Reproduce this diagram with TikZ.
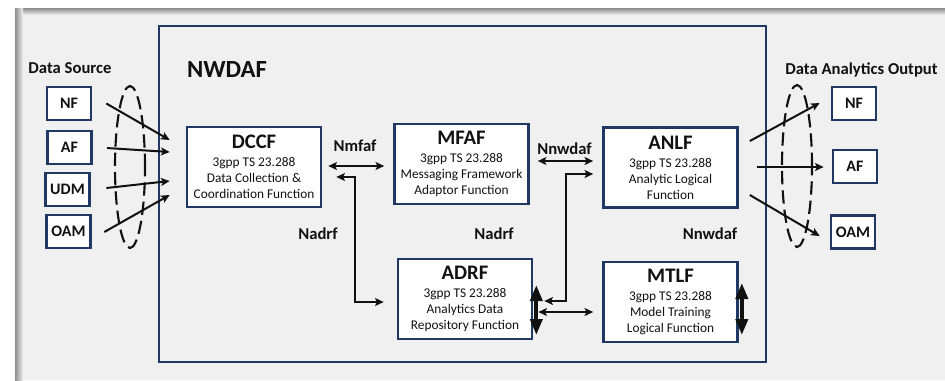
\documentclass[tikz,border=0pt]{standalone}
\usepackage{fontspec}
\setmainfont{Carlito}
\usetikzlibrary{arrows.meta,shapes.geometric,calc}
\definecolor{navy}{HTML}{1F3864}
\definecolor{panel}{HTML}{F0F0F0}
\definecolor{ink}{HTML}{111111}
\newcommand{\ttlfont}{\fontsize{15.5}{17}\selectfont\bfseries}
\newcommand{\bodyfont}{\fontsize{10}{10.5}\selectfont\mdseries}
\begin{document}
\begin{tikzpicture}[x=0.75pt,y=-0.75pt,
  fnbox/.style={draw=navy, line width=2pt, fill=white, minimum width=100.5pt,
    minimum height=60pt, inner sep=0pt, align=center, text=ink},
  epbox/.style={draw=navy, line width=2pt, fill=white, minimum width=33pt,
    minimum height=24.75pt, inner sep=0pt, text=ink,
    font=\fontsize{12}{14}\selectfont\bfseries},
  lbl/.style={text=ink, inner sep=0pt, font=\fontsize{12.5}{14}\selectfont\bfseries},
  conn/.style={draw=ink, line width=1.5pt, -{Stealth[length=6.5pt,width=6pt,inset=1.5pt]}},
  dbl/.style={draw=ink, line width=1.5pt,
    {Stealth[length=6.5pt,width=6pt,inset=1.5pt]}-{Stealth[length=6.5pt,width=6pt,inset=1.5pt]}},
  fat/.style={draw=ink, line width=2.8pt,
    {Triangle[length=12pt,width=9pt]}-{Triangle[length=12pt,width=9pt]}},
  group/.style={ellipse, draw=ink, line width=1.6pt, dash pattern=on 10pt off 4.5pt,
    minimum width=22.5pt, minimum height=121.5pt, inner sep=0pt}
]
\useasboundingbox (0,0) rectangle (945,380);

% page and grey panel with its inner shadow
\fill[white] (0,0) rectangle (945,380);
\fill[panel] (15,8) rectangle (945,380);
\shade[top color=black!45, bottom color=panel] (15,8) rectangle (945,15);
\shade[left color=black!45, right color=panel] (15,8) rectangle (23,380);

% NWDAF container
\node[draw=navy, line width=2pt, minimum width=455.25pt, minimum height=252pt,
  inner sep=0pt] (nwdaf) at (462.5,194) {};
\node[text=ink, inner sep=0pt, font=\fontsize{18.5}{20}\selectfont\bfseries] (nwdaftitle) at (227,69) {NWDAF};

% headings
\node[lbl] (srchead) at (70,68) {Data Source};
\node[lbl] (outhead) at (861.5,70) {Data Analytics Output};

% data sources
\node[epbox] (srcNF)  at (69,103.5)  {NF};
\node[epbox] (srcAF)  at (69.5,147.5) {AF};
\node[epbox] (srcUDM) at (67.5,189.5) {UDM};
\node[epbox] (srcOAM) at (68.5,231.5) {OAM};

% analytics consumers
\node[epbox] (outNF)  at (854,103.5) {NF};
\node[epbox] (outAF)  at (855,166.5) {AF};
\node[epbox] (outOAM) at (853,232)   {OAM};

% NWDAF functions
\node[fnbox] (DCCF) at (254,167) {{\ttlfont DCCF}\\[1.5pt]{\bodyfont 3gpp TS 23.288}\\{\bodyfont Data Collection \&}\\{\bodyfont Coordination Function}};
\node[fnbox] (MFAF) at (461.5,164) {{\ttlfont MFAF}\\[1.5pt]{\bodyfont 3gpp TS 23.288}\\{\bodyfont Messaging Framework}\\{\bodyfont Adaptor Function}};
\node[fnbox] (ANLF) at (670.5,167.5) {{\ttlfont ANLF}\\[1.5pt]{\bodyfont 3gpp TS 23.288}\\{\bodyfont Analytic Logical}\\{\bodyfont Function}};
\node[fnbox] (ADRF) at (465,299) {{\ttlfont ADRF}\\[1.5pt]{\bodyfont 3gpp TS 23.288}\\{\bodyfont Analytics Data}\\{\bodyfont Repository Function}};
\node[fnbox] (MTLF) at (670.5,302) {{\ttlfont MTLF}\\[1.5pt]{\bodyfont 3gpp TS 23.288}\\{\bodyfont Model Training}\\{\bodyfont Logical Function}};

% service interface labels
\node[lbl] (lNmfaf)   at (355,145.5) {Nmfaf};
\node[lbl] (lNnwdaf)  at (564.5,149) {Nnwdaf};
\node[lbl] (lNadrfA)  at (318,234) {Nadrf};
\node[lbl] (lNadrfB)  at (494,234) {Nadrf};
\node[lbl] (lNnwdafB) at (710,234) {Nnwdaf};

% dashed groupings
\node[group] (srcset) at (130,167) {};
\node[group] (outset) at (797,166) {};

% inputs to DCCF
\draw[conn] ($(srcNF.east)+(14,0)$)     -- ($(DCCF.west)+(-16,-27)$);
\draw[conn] ($(srcAF.east)+(14,0.5)$)   -- ($(DCCF.west)+(-16,-15)$);
\draw[conn] ($(srcUDM.east)+(15.5,-1.5)$) -- ($(DCCF.west)+(-16,14)$);
\draw[conn] ($(srcOAM.east)+(12.5,0.5)$) -- ($(DCCF.west)+(-16,28)$);

% outputs from ANLF
\draw[conn] ($(ANLF.east)+(11,-26.5)$) -- ($(outNF.west)+(-11,-0.5)$);
\draw[conn] ($(ANLF.east)+(18,-0.5)$)  -- ($(outAF.west)+(-8,0.5)$);
\draw[conn] ($(ANLF.east)+(11,27.5)$)  -- ($(outOAM.west)+(-10,4)$);

% internal service links
\draw[dbl] ($(DCCF.east)+(6,-1)$) -- ($(MFAF.west)+(-9,2)$);
\draw[dbl] ($(DCCF.east)+(14,10)$) -| ($(ADRF.west)+(-42,3)$) -- ($(ADRF.west)+(-13,3)$);
\draw[dbl] ($(MFAF.east)+(8,-3)$) -- ($(ANLF.west)+(-9,-6.5)$);
\draw[dbl] ($(ANLF.west)+(-9,6.5)$) -| ($(ADRF.east)+(33,2)$) -- ($(ADRF.east)+(11,2)$);
\draw[dbl] ($(ADRF.east)+(5,13)$) -- ($(MTLF.west)+(-9,10)$);

% storage / training interactions
\draw[fat] ($(ADRF.east)+(3,-14)$) -- ($(ADRF.east)+(3,36)$);
\draw[fat] ($(MTLF.east)+(3,-19)$) -- ($(MTLF.east)+(3,33)$);
\end{tikzpicture}
\end{document}
